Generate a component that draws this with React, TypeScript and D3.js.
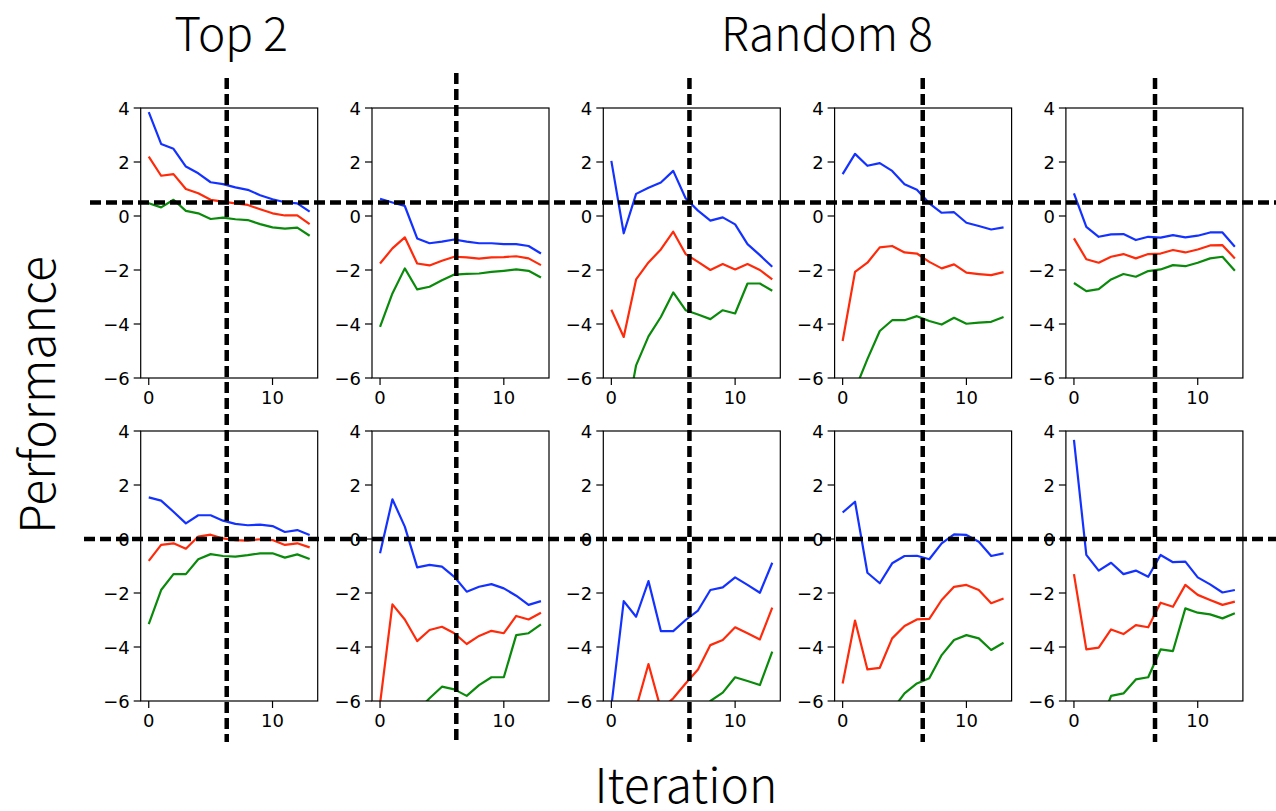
import React from "react";
import * as d3 from "d3";

// ---- data ----
const iterations = d3.range(0, 14);
const xTicks = [0, 10];
const yTicks = [4, 2, 0, -2, -4, -6];
const columnTitles = ["Top 2", "Random 8"];

// top row
const t1Blue = [3.85, 2.67, 2.49, 1.83, 1.58, 1.25, 1.18, 1.06, 0.97, 0.77, 0.62, 0.51, 0.47, 0.16];
const t1Red = [2.2, 1.49, 1.55, 1.0, 0.84, 0.6, 0.53, 0.47, 0.41, 0.25, 0.1, 0.02, 0.02, -0.3];
const t1Green = [0.47, 0.32, 0.6, 0.19, 0.1, -0.11, -0.06, -0.12, -0.15, -0.3, -0.42, -0.47, -0.43, -0.73];

const t2Blue = [0.64, 0.5, 0.37, -0.83, -1.01, -0.95, -0.87, -0.95, -1.01, -1.01, -1.04, -1.04, -1.11, -1.39];
const t2Red = [-1.76, -1.2, -0.79, -1.76, -1.83, -1.66, -1.51, -1.53, -1.58, -1.53, -1.52, -1.49, -1.57, -1.82];
const t2Green = [-4.11, -2.87, -1.94, -2.72, -2.62, -2.38, -2.17, -2.14, -2.13, -2.07, -2.03, -1.98, -2.03, -2.28];

const t3Blue = [2.04, -0.64, 0.82, 1.05, 1.24, 1.67, 0.66, 0.2, -0.17, -0.05, -0.31, -1.04, -1.45, -1.88];
const t3Red = [-3.47, -4.48, -2.35, -1.72, -1.24, -0.58, -1.41, -1.7, -2.0, -1.78, -1.98, -1.78, -2.0, -2.35];
const t3Green = [-9.0, -8.0, -5.53, -4.46, -3.74, -2.83, -3.49, -3.65, -3.82, -3.49, -3.61, -2.5, -2.5, -2.77];

const t4Blue = [1.55, 2.3, 1.86, 1.96, 1.67, 1.18, 0.97, 0.47, 0.12, 0.14, -0.25, -0.37, -0.5, -0.42];
const t4Red = [-4.63, -2.07, -1.73, -1.16, -1.11, -1.35, -1.39, -1.7, -1.94, -1.79, -2.1, -2.15, -2.19, -2.08];
const t4Green = [-9.0, -6.43, -5.3, -4.26, -3.86, -3.86, -3.71, -3.89, -4.02, -3.77, -3.99, -3.95, -3.92, -3.74];

const t5Blue = [0.84, -0.4, -0.77, -0.68, -0.67, -0.89, -0.77, -0.8, -0.71, -0.79, -0.73, -0.61, -0.61, -1.14];
const t5Red = [-0.83, -1.6, -1.73, -1.51, -1.41, -1.57, -1.41, -1.39, -1.26, -1.35, -1.24, -1.09, -1.08, -1.57];
const t5Green = [-2.48, -2.78, -2.71, -2.35, -2.15, -2.25, -2.04, -1.98, -1.82, -1.86, -1.73, -1.57, -1.51, -2.03];

// bottom row
const b1Blue = [1.54, 1.42, 1.01, 0.58, 0.88, 0.88, 0.68, 0.56, 0.51, 0.53, 0.48, 0.26, 0.33, 0.15];
const b1Red = [-0.81, -0.22, -0.16, -0.36, 0.09, 0.16, 0.02, -0.04, -0.06, -0.01, -0.04, -0.22, -0.16, -0.31];
const b1Green = [-3.15, -1.89, -1.3, -1.3, -0.75, -0.56, -0.63, -0.65, -0.6, -0.53, -0.53, -0.69, -0.57, -0.74];

const b2Blue = [-0.53, 1.47, 0.46, -1.05, -0.96, -1.02, -1.4, -1.95, -1.77, -1.67, -1.83, -2.1, -2.44, -2.3];
const b2Red = [-6.1, -2.42, -2.98, -3.78, -3.37, -3.25, -3.49, -3.89, -3.59, -3.4, -3.49, -2.85, -2.98, -2.73];
const b2Green = [-8.0, -7.5, -7.0, -6.36, -5.9, -5.47, -5.57, -5.81, -5.41, -5.12, -5.12, -3.56, -3.49, -3.16];

const b3Blue = [-6.2, -2.3, -2.88, -1.56, -3.41, -3.41, -3.0, -2.65, -1.89, -1.79, -1.42, -1.7, -1.99, -0.88];
const b3Red = [-8.0, -7.0, -6.26, -4.63, -6.3, -5.9, -5.35, -4.83, -3.93, -3.74, -3.27, -3.49, -3.72, -2.54];
const b3Green = [-9.0, -8.5, -8.0, -7.5, -7.2, -7.0, -6.8, -6.5, -6.0, -5.69, -5.12, -5.26, -5.41, -4.17];

const b4Blue = [0.98, 1.38, -1.25, -1.64, -0.9, -0.63, -0.62, -0.75, -0.16, 0.17, 0.15, -0.1, -0.63, -0.53];
const b4Red = [-5.35, -3.02, -4.83, -4.77, -3.68, -3.22, -2.98, -2.96, -2.26, -1.77, -1.7, -1.89, -2.38, -2.2];
const b4Green = [-9.0, -8.5, -8.0, -7.2, -6.33, -5.72, -5.35, -5.16, -4.3, -3.74, -3.56, -3.68, -4.11, -3.84];

const b5Blue = [3.67, -0.59, -1.17, -0.88, -1.3, -1.17, -1.4, -0.59, -0.86, -0.84, -1.42, -1.68, -1.98, -1.89];
const b5Red = [-1.3, -4.09, -4.02, -3.35, -3.52, -3.19, -3.27, -2.36, -2.51, -1.7, -2.07, -2.26, -2.44, -2.32];
const b5Green = [-9.0, -8.0, -7.0, -5.81, -5.72, -5.2, -5.12, -4.09, -4.15, -2.57, -2.73, -2.79, -2.94, -2.75];

// reference (dashed) lines: vertical per column (in iteration units), horizontal per row (performance units)
const columnCutoffs = [6.3, 6.16, 6.31, 6.47, 6.55];
const rowBaselines = [0.5, 0];

const panels = [
  [
    [t1Blue, t1Red, t1Green],
    [t2Blue, t2Red, t2Green],
    [t3Blue, t3Red, t3Green],
    [t4Blue, t4Red, t4Green],
    [t5Blue, t5Red, t5Green],
  ],
  [
    [b1Blue, b1Red, b1Green],
    [b2Blue, b2Red, b2Green],
    [b3Blue, b3Red, b3Green],
    [b4Blue, b4Red, b4Green],
    [b5Blue, b5Red, b5Green],
  ],
];

const seriesColors = ["#1432ff", "#ff2a0a", "#0a8a0a"];

// ---- layout ----
const W = 1276;
const H = 811;
const colLeft0 = 140.7;
const colStep = 231.3;
const panelW = 177;
const rowTops = [108, 431];
const panelH = 270;
const tickFont = "'DejaVu Sans', sans-serif";
const labelFont = "'Noto Sans CJK SC', 'Noto Sans', sans-serif";

const xScale = (c: number) =>
  d3.scaleLinear().domain([-0.65, 13.65]).range([colLeft0 + c * colStep, colLeft0 + c * colStep + panelW]);
const yScale = (r: number) => d3.scaleLinear().domain([-6, 4]).range([rowTops[r] + panelH, rowTops[r]]);

const fmt = (v: number) => (v < 0 ? "\u2212" + Math.abs(v) : String(v));

function Panel({ r, c }: { r: number; c: number }) {
  const x = xScale(c);
  const y = yScale(r);
  const [x0, x1] = x.range();
  const [yb, yt] = y.range();
  const id = `clip-${r}-${c}`;
  const line = d3
    .line<number>()
    .x((_, i) => x(iterations[i]))
    .y((d) => y(d));
  return (
    <g>
      <defs>
        <clipPath id={id}>
          <rect x={x0} y={yt} width={x1 - x0} height={yb - yt} />
        </clipPath>
      </defs>
      <rect x={x0} y={yt} width={x1 - x0} height={yb - yt} fill="white" />
      <g clipPath={`url(#${id})`}>
        {panels[r][c].map((s, i) => (
          <path key={i} d={line(s) || ""} fill="none" stroke={seriesColors[i]} strokeWidth={2.2} strokeLinejoin="round" />
        ))}
      </g>
      <rect x={x0} y={yt} width={x1 - x0} height={yb - yt} fill="none" stroke="#000" strokeWidth={1.2} />
      {yTicks.map((t) => (
        <g key={"y" + t}>
          <line x1={x0 - 7} x2={x0} y1={y(t)} y2={y(t)} stroke="#000" strokeWidth={1.2} />
          <text x={x0 - 11} y={y(t) + 6.6} textAnchor="end" fontFamily={tickFont} fontSize={18} fill="#000">
            {fmt(t)}
          </text>
        </g>
      ))}
      {xTicks.map((t) => (
        <g key={"x" + t}>
          <line x1={x(t)} x2={x(t)} y1={yb} y2={yb + 7} stroke="#000" strokeWidth={1.2} />
          <text x={x(t)} y={yb + 26} textAnchor="middle" fontFamily={tickFont} fontSize={18} fill="#000">
            {fmt(t)}
          </text>
        </g>
      ))}
    </g>
  );
}

export default function App() {
  const dash = "11 5";
  return (
    <svg width={W} height={H} style={{ position: "absolute", left: 0, top: 0, background: "white" }}>
      <rect width={W} height={H} fill="white" />
      {[0, 1].map((r) => [0, 1, 2, 3, 4].map((c) => <Panel key={`${r}-${c}`} r={r} c={c} />))}
      {/* horizontal reference lines */}
      {rowBaselines.map((v, r) => (
        <line key={"h" + r} x1={r === 0 ? 90 : 84} x2={W} y1={yScale(r)(v)} y2={yScale(r)(v)} stroke="#000" strokeWidth={4.5} strokeDasharray={dash} />
      ))}
      {/* vertical reference lines */}
      {columnCutoffs.map((v, c) => (
        <line key={"v" + c} x1={xScale(c)(v)} x2={xScale(c)(v)} y1={c === 1 ? 73 : 78} y2={742} stroke="#000" strokeWidth={4.5} strokeDasharray={dash} />
      ))}
      <text x={231} y={51} textAnchor="middle" fontFamily={labelFont} fontWeight={300} fontSize={46} fill="#000">
        {columnTitles[0]}
      </text>
      <text x={827} y={51} textAnchor="middle" fontFamily={labelFont} fontWeight={300} fontSize={46} fill="#000">
        {columnTitles[1]}
      </text>
      <text transform="translate(55,395) rotate(-90)" textAnchor="middle" fontFamily={labelFont} fontWeight={300} fontSize={48} fill="#000">
        Performance
      </text>
      <text x={686} y={803} textAnchor="middle" fontFamily={labelFont} fontWeight={300} fontSize={48} fill="#000">
        Iteration
      </text>
    </svg>
  );
}
